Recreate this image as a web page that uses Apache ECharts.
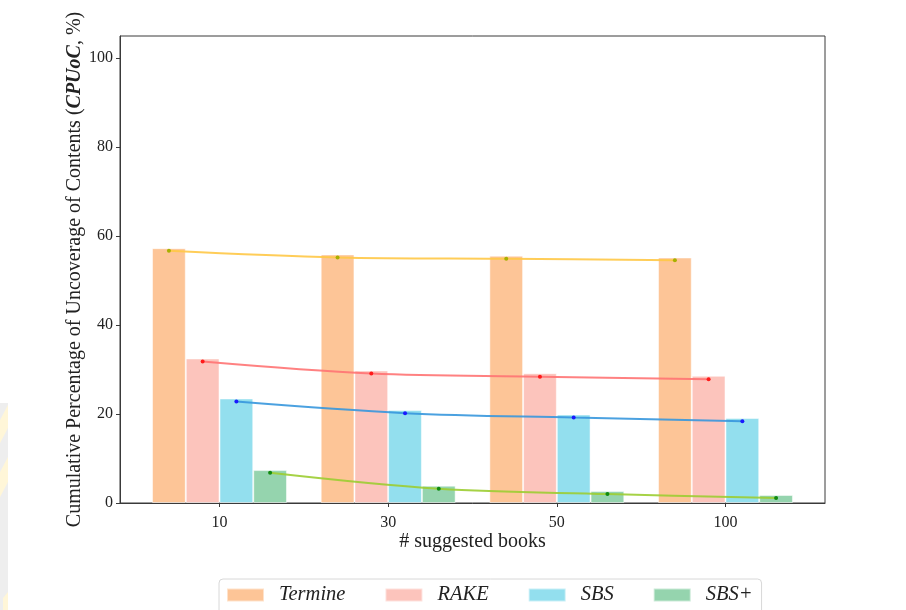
<!DOCTYPE html>
<html>
<head>
<meta charset="utf-8">
<script src="https://cdn.jsdelivr.net/npm/echarts@6/dist/echarts.min.js"></script>
<style>
  html, body { margin: 0; padding: 0; background: #ffffff; }
  #chart { width: 906px; height: 610px; }
</style>
</head>
<body>
<div id="chart"></div>
<script>
// Number of suggested books (x-axis groups)
const categories = ['10', '30', '50', '100'];

// Bar heights per method (%)
const termineBars = [57.3, 55.9, 55.6, 55.2];
const rakeBars = [32.5, 29.8, 29.2, 28.6];
const sbsBars = [23.5, 20.9, 19.9, 19.1];
const sbsPlusBars = [7.4, 3.9, 2.7, 1.8];

// Smoothed trend points drawn over each method's bars (%)
const termineTrend = [56.7, 55.2, 54.9, 54.6];
const rakeTrend = [31.8, 29.1, 28.4, 27.8];
const sbsTrend = [22.8, 20.2, 19.2, 18.4];
const sbsPlusTrend = [6.8, 3.2, 2.0, 1.1];

// Y-axis tick labels
const yTicks = [0, 20, 40, 60, 80, 100];

const methods = ['Termine', 'RAKE', 'SBS', 'SBS+'];

// Layout of the grouped bars on a numeric x scale: group i sits at x = i,
// each bar is 0.2 wide and the four bars sit side by side around the group.
const BAR_W = 0.2;
const seriesOffset = [-1.5, -0.5, 0.5, 1.5].map(k => k * BAR_W);
const X_MIN = -0.59, X_MAX = 3.59;
const GRID = { left: 120, right: 81, top: 36, bottom: 107 };
const barPx = BAR_W * (906 - GRID.left - GRID.right) / (X_MAX - X_MIN);

const barColors = ['#fdc597', '#fcc4bc', '#93dfee', '#95d4ae'];
const lineColors = ['#ffc846', '#ff7373', '#3797dd', '#9ccd32'];
const dotColors = ['#a8b000', '#ff1a1a', '#1a1aff', '#108a10'];

const barValues = [termineBars, rakeBars, sbsBars, sbsPlusBars];
const trendValues = [termineTrend, rakeTrend, sbsTrend, sbsPlusTrend];

const SERIF = '"Liberation Serif", "DejaVu Serif", serif';

const series = [];
methods.forEach((name, s) => {
  series.push({
    name: name,
    type: 'bar',
    barWidth: barPx,
    barGap: '-100%',
    itemStyle: { color: barColors[s], borderColor: 'rgba(255,255,255,0.5)', borderWidth: 1 },
    data: barValues[s].map((v, i) => [i + seriesOffset[s], v]),
    z: 2
  });
});
methods.forEach((name, s) => {
  series.push({
    name: name + ' trend',
    type: 'line',
    smooth: 0.35,
    symbol: 'circle',
    symbolSize: 4,
    showSymbol: true,
    lineStyle: { color: lineColors[s], width: 2, opacity: 0.9 },
    itemStyle: { color: dotColors[s] },
    data: trendValues[s].map((v, i) => [i + seriesOffset[s], v]),
    z: 4
  });
});

const chart = echarts.init(document.getElementById('chart'), null, { renderer: 'canvas' });

chart.setOption({
  backgroundColor: '#ffffff',
  animation: false,
  textStyle: { fontFamily: SERIF, color: '#222' },
  grid: {
    left: GRID.left, right: GRID.right, top: GRID.top, bottom: GRID.bottom,
    show: true, borderColor: '#3a3a3a', borderWidth: 1, backgroundColor: 'transparent'
  },
  legend: {
    data: methods,
    left: 219,
    top: 579,
    orient: 'horizontal',
    icon: 'rect',
    itemWidth: 37,
    itemHeight: 13,
    itemGap: 39,
    padding: [6, 9, 20, 7],
    borderColor: '#d8d8d8',
    borderWidth: 1,
    borderRadius: 4,
    backgroundColor: '#ffffff',
    selectedMode: false,
    textStyle: {
      fontFamily: SERIF, fontStyle: 'italic', fontSize: 20.5, color: '#222',
      lineHeight: 20, padding: [0, 0, 0, 10]
    }
  },
  xAxis: {
    type: 'value',
    min: X_MIN,
    max: X_MAX,
    name: '# suggested books',
    nameLocation: 'middle',
    nameGap: 29,
    nameMoveOverlap: false,
    nameTextStyle: { fontFamily: SERIF, fontSize: 20, color: '#222' },
    axisLine: { show: true, onZero: false, lineStyle: { color: '#3a3a3a', width: 1 } },
    axisTick: { show: true, inside: false, length: 4, customValues: [0, 1, 2, 3], lineStyle: { color: '#3a3a3a' } },
    axisLabel: {
      customValues: [0, 1, 2, 3],
      formatter: v => categories[Math.round(v)],
      fontFamily: SERIF, fontSize: 16, color: '#222', margin: 12
    },
    splitLine: { show: false }
  },
  yAxis: {
    type: 'value',
    min: 0,
    max: 105,
    name: 'Cumulative Percentage of Uncoverage of Contents ({b|CPUoC}, %)',
    nameLocation: 'middle',
    nameRotate: 90,
    nameGap: 35,
    nameMoveOverlap: false,
    nameTextStyle: {
      fontFamily: SERIF, fontSize: 20, color: '#222',
      rich: { b: { fontFamily: SERIF, fontSize: 20, fontWeight: 'bold', fontStyle: 'italic', color: '#222' } }
    },
    axisLine: { show: true, onZero: false, lineStyle: { color: '#3a3a3a', width: 1 } },
    axisTick: { show: true, inside: false, length: 4, customValues: yTicks, lineStyle: { color: '#3a3a3a' } },
    axisLabel: {
      customValues: yTicks,
      fontFamily: SERIF, fontSize: 16, color: '#222', margin: 7
    },
    splitLine: { show: false }
  },
  graphic: [
    { type: 'rect', left: 0, top: 403, shape: { width: 8, height: 207 }, style: { fill: '#eeeeee' }, silent: true },
    { type: 'polygon', shape: { points: [[0, 420], [8, 405], [8, 428], [0, 443]] }, style: { fill: '#fff6d8' }, silent: true },
    { type: 'polygon', shape: { points: [[0, 472], [8, 457], [8, 482], [0, 497]] }, style: { fill: '#fff6d8' }, silent: true },
    { type: 'polygon', shape: { points: [[3, 598], [8, 592], [8, 610], [3, 610]] }, style: { fill: '#fff6d8' }, silent: true }
  ],
  series: series
});
</script>
</body>
</html>
